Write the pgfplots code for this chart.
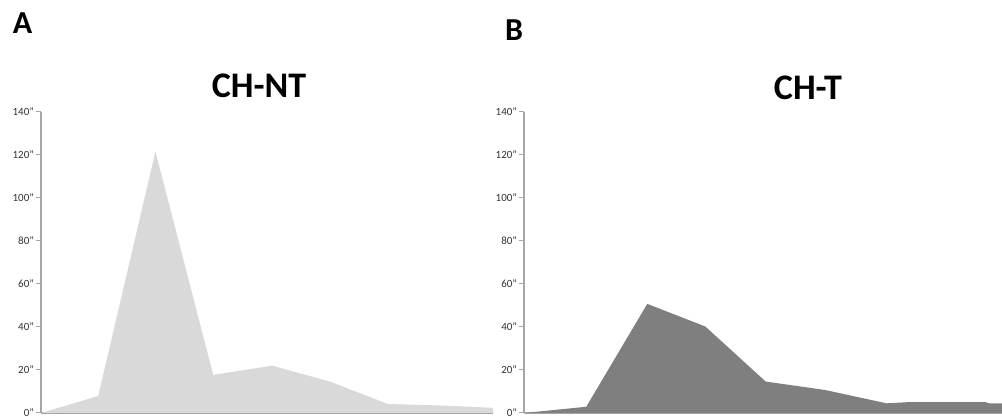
\documentclass[border=0pt]{standalone}
\usepackage{fontspec}
\setmainfont{Carlito}
\usepackage{pgfplots}
\pgfplotsset{compat=1.18}
\definecolor{colA}{HTML}{D9D9D9}
\definecolor{colB}{HTML}{7F7F7F}
\definecolor{axgray}{HTML}{A6A6A6}
\pgfplotsset{
  panel/.style={
    scale only axis,
    anchor=south west,
    height=150.65pt,
    ymin=0, ymax=140,
    ytick={0,20,...,140},
    xtick=\empty,
    axis x line*=bottom,
    axis y line*=left,
    axis line style={draw=axgray, line width=0.6pt, -},
    tick style={draw=axgray, line width=0.5pt},
    tick align=outside,
    major tick length=2.5pt,
    ytick pos=left,
    /pgf/number format/assume math mode=true,
    yticklabel={\pgfmathprintnumber{\tick}"},
    yticklabel style={font=\fontsize{5.5}{6}\selectfont, inner sep=0.8pt, text=black!80},
    clip=true,
  }
}
\begin{document}
\begin{tikzpicture}
\path[use as bounding box] (0,0) rectangle (501pt,208.5pt);
\begin{axis}[panel, at={(20.5pt,2pt)}, width=226pt, xmin=0, xmax=7.82]
\addplot[draw=none, fill=colA] coordinates {
(0,0) (0.99,7.9) (1.98,121.5) (2.98,17.7) (4.0,22) (5.0,14.6) (6.0,4.2) (7.0,3.4) (7.82,2.4)
} \closedcycle;
\end{axis}
\begin{axis}[panel, at={(262pt,2pt)}, width=239pt, xmin=0, xmax=7.91]
\addplot[draw=none, fill=colB] coordinates {
(0,0) (1.03,2.9) (2.04,50.7) (3.0,40.2) (4.0,14.6) (4.98,10.7) (6.0,4.5) (6.4,5.1) (7.63,5.1) (7.7,4.5) (7.91,4.5)
} \closedcycle;
\end{axis}
\node[font=\bfseries\fontsize{18}{20}\selectfont] at (129.5pt,165.5pt) {CH-NT};
\node[font=\bfseries\fontsize{18}{20}\selectfont] at (404pt,164.5pt) {CH-T};
\node[font=\bfseries\fontsize{16}{18}\selectfont] at (11.25pt,196.75pt) {A};
\node[font=\bfseries\fontsize{16}{18}\selectfont] at (257pt,193.5pt) {B};
\end{tikzpicture}
\end{document}
